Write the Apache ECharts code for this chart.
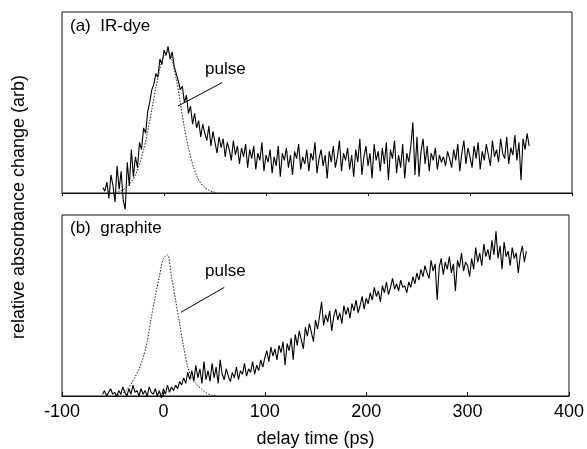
<!DOCTYPE html>
<html>
<head>
<meta charset="utf-8">
<script src="https://cdn.jsdelivr.net/npm/echarts@6/dist/echarts.min.js"></script>
<style>html,body{margin:0;padding:0;background:#fff}#c{width:587px;height:449px}</style>
</head>
<body>
<div id="c"></div>
<script>
// sampling grid of the measured traces (ps)
const delayStart = -60;
const delayStep = 2;

// (a) IR-dye trace, -60 ... 358 ps
const irDye = [
  3, 1, 6, -3, 10, 4, -5, 15, 2, 12, -4,
  -9, 17, 4, 24, 9, 20, 14, 28, 24,
  36, 33, 45, 50, 57, 60, 66, 64, 74, 71,
  79, 76, 81, 74, 78, 70,
  66, 62, 57, 59, 50, 54, 44, 48, 38, 44,
  36, 40, 31, 38, 33, 29, 37, 26, 34, 28,
  22, 31, 25, 30, 20, 28, 24, 18, 29, 21,
  26, 16, 25, 20, 27, 14, 24, 19, 26, 13, 22, 18, 28, 12, 21,
  17, 24, 11, 20, 15, 26, 9, 22, 18, 25, 14, 21, 10, 23, 19, 27, 13, 20, 16, 24,
  12, 22, 18, 28, 11, 19, 24, 15, 21, 8, 23, 17, 26, 14, 20, 29, 12, 22, 18, 25,
  13, 21, 9, 24, 17, 30, 10, 20, 26, 15, 22, 8, 27, 18, 23, 12, 25, 16, 28, 7,
  24, 19, 29, 11, 21, 14, 27, 8, 22, 17, 26, 39, 10, 31, 9, 23, 30, 16, 26, 12,
  22, 18, 25, 13, 21, 17, 20, 15, 23, 19, 14, 24, 18, 27, 12, 22, 29, 16, 25, 20,
  14, 26, 19, 28, 13, 23, 18, 27, 21, 15, 29, 20, 24, 17, 30, 22, 19, 31, 16, 25,
  21, 32, 18, 28, 7, 30, 24, 33, 26
];

// (b) graphite trace, -60 ... 358 ps
const graphite = [
  1, 3, 0, 2, 4, 1, 2, 0, 3, 1, 5, 2, 0, 4, 1, 6, 2, 3, 0, 4, 1, 3, 0, 5, 2, 1, 4, 0, 3, -1, 4, 1, 6, 2, 5, 3,
  6, 4, 8, 6, 10, 7, 13, 9, 14, 8, 17, 10, 15, 7, 19,
  9, 14, 8, 18, 10, 16, 7, 20, 12, 9, 15, 11, 8, 13, 10, 16, 9, 14, 12, 18, 11, 15, 13, 19, 12, 17, 14, 20, 16, 21,
  25, 19, 27, 22, 26, 20, 28, 24, 30, 17, 29, 25, 32, 20, 34, 28, 36, 31, 26, 38, 33, 40, 35, 30, 42,
  37, 44, 52, 39, 45, 41, 47, 36, 44, 48, 42, 46, 40, 50, 45, 49, 43, 51, 47, 53, 46, 50, 55, 48, 54,
  51, 57, 53, 60, 55, 58, 52, 61, 57, 63, 56, 60, 65, 59, 62, 58, 64, 60, 61, 57, 63, 60, 66, 62, 68,
  64, 70, 66, 72, 68, 65, 75, 69, 73, 53, 71, 76, 67, 74, 70, 77, 68, 73, 58, 75, 71, 79, 69, 74, 72,
  66, 76, 70, 82, 74, 79, 72, 84, 77, 81, 75, 86, 78, 91, 76, 83, 70, 85, 77, 80, 72, 82, 76, 79, 68, 78, 83, 74, 80
];

// excitation pulse profiles (dotted)
const pulseTimes = [-48, -44, -40, -36, -32, -28, -24, -20, -16, -12, -8, -4, 0, 4, 8, 12, 16, 20, 24, 28, 32, 36, 40, 44, 48, 52];
const pulseA = [0.3, 0.8, 1.8, 3.5, 6.2, 10, 16, 24, 34, 46, 58, 69, 76, 78, 73, 63, 50, 36, 25, 16, 9.5, 5.5, 3, 1.5, 0.6, 0.2];
const pulseB = [0.2, 0.6, 1.6, 3.5, 6.5, 10.5, 15, 21, 30, 43, 55, 66, 76, 78, 66, 53, 40, 27, 16, 10, 7, 4.5, 2.6, 1.2, 0.4, 0.1];

// x axis ticks
const xTicks = [-100, 0, 100, 200, 300, 400];

// "pulse" pointer lines [x1, y1, x2, y2] in data units
const pointerA = [57, 61, 13.7, 48];
const pointerB = [60, 60, 17.4, 46.3];

const FONT = "'Liberation Sans', Arial, Helvetica, sans-serif";
const toPairs = arr => arr.map((v, i) => [delayStart + i * delayStep, v]);
const zip = (xs, ys) => xs.map((x, i) => [x, ys[i]]);

const chart = echarts.init(document.getElementById('c'), null, {renderer: 'canvas'});

const xBase = {
  type: 'value', min: xTicks[0], max: xTicks[xTicks.length - 1], interval: 100,
  splitLine: {show: false},
  axisLine: {show: true, onZero: false, lineStyle: {color: '#111', width: 1}},
};
const yBase = {
  type: 'value', min: 0, max: 100,
  axisLabel: {show: false}, axisTick: {show: false}, splitLine: {show: false},
  axisLine: {show: false}
};
const pointer = p => ({
  silent: true, symbol: 'none', label: {show: false},
  lineStyle: {color: '#000', width: 1, type: 'solid'},
  data: [[{coord: [p[0], p[1]]}, {coord: [p[2], p[3]]}]]
});

chart.setOption({
  animation: false,
  backgroundColor: '#fff',
  textStyle: {fontFamily: FONT},
  grid: [
    {left: 62, right: 15, top: 12, height: 181, show: true, borderColor: '#111', borderWidth: 1},
    {left: 62, right: 15, top: 215, height: 183, show: true, borderColor: '#111', borderWidth: 1}
  ],
  xAxis: [
    Object.assign({}, xBase, {gridIndex: 0, axisLabel: {show: false},
      axisTick: {show: true, inside: false, length: 3, lineStyle: {color: '#111'}}}),
    Object.assign({}, xBase, {gridIndex: 1,
      axisTick: {show: true, inside: true, length: 4, lineStyle: {color: '#111'}},
      axisLabel: {show: true, color: '#000', fontSize: 18, fontFamily: FONT, margin: 7},
      name: 'delay time (ps)', nameLocation: 'middle', nameGap: 34,
      nameTextStyle: {color: '#000', fontSize: 18, fontFamily: FONT}})
  ],
  yAxis: [
    Object.assign({}, yBase, {gridIndex: 0}),
    Object.assign({}, yBase, {gridIndex: 1})
  ],
  series: [
    {type: 'line', xAxisIndex: 0, yAxisIndex: 0, data: toPairs(irDye), showSymbol: false,
      clip: false, lineStyle: {color: '#000', width: 1.1}},
    {type: 'line', xAxisIndex: 0, yAxisIndex: 0, data: zip(pulseTimes, pulseA), showSymbol: false,
      smooth: 0.3, clip: false, lineStyle: {color: '#222', width: 1, type: [1.5, 1.5]},
      markLine: pointer(pointerA)},
    {type: 'line', xAxisIndex: 1, yAxisIndex: 1, data: toPairs(graphite), showSymbol: false,
      clip: false, lineStyle: {color: '#000', width: 1.1}},
    {type: 'line', xAxisIndex: 1, yAxisIndex: 1, data: zip(pulseTimes, pulseB), showSymbol: false,
      smooth: 0.3, clip: false, lineStyle: {color: '#222', width: 1, type: [1.5, 1.5]},
      markLine: pointer(pointerB)}
  ],
  graphic: [
    {type: 'text', left: 70, top: 18, style: {text: '(a)  IR-dye', fill: '#000', font: '17px ' + FONT}},
    {type: 'text', left: 70, top: 220, style: {text: '(b)  graphite', fill: '#000', font: '17px ' + FONT}},
    {type: 'text', left: 205, top: 61, style: {text: 'pulse', fill: '#000', font: '17px ' + FONT}},
    {type: 'text', left: 205, top: 263, style: {text: 'pulse', fill: '#000', font: '17px ' + FONT}},
    {type: 'text', x: 19, y: 207, rotation: Math.PI / 2,
      style: {text: 'relative absorbance change (arb)', fill: '#000', font: '18px ' + FONT,
        align: 'center', verticalAlign: 'middle'}}
  ]
});
</script>
</body>
</html>
